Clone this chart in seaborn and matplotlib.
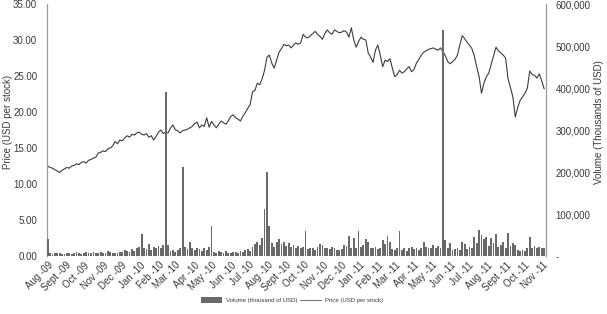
import matplotlib
matplotlib.use("Agg")
import matplotlib.pyplot as plt
import matplotlib.dates as mdates
import matplotlib.ticker as mticker
from matplotlib.patches import Patch
from matplotlib.lines import Line2D
import numpy as np
import pandas as pd
import seaborn as sns

# ---------------- data ----------------
start_date = "2009-08-01"     # first observation, one value every 4 days
step = "4D"

price = [
    12.5, 12.3, 12.2, 12.0, 11.8, 11.6, 11.9, 12.1, 12.3, 12.2,
    12.5, 12.6, 12.8, 12.7, 13.0, 13.1, 12.9, 13.3, 13.4, 13.6,
    13.7, 14.3, 14.4, 14.6, 14.5, 14.9, 15.0, 15.3, 15.9, 15.6,
    16.1, 16.0, 16.4, 16.7, 16.5, 16.9, 16.8, 17.1, 17.2, 16.9,
    16.8, 17.0, 16.5, 16.7, 16.1, 16.6, 17.2, 17.5, 17.0, 17.2,
    17.1, 17.8, 18.2, 17.5, 17.4, 17.1, 17.4, 17.5, 17.6, 17.8,
    18.0, 18.4, 18.6, 17.8, 18.2, 18.0, 19.2, 17.9, 18.7, 18.2,
    17.8, 18.3, 18.75, 18.5, 18.3, 18.8, 19.4, 19.6, 19.2, 19.0,
    18.75, 19.4, 19.9, 20.5, 21.0, 22.8, 23.0, 24.0, 23.8, 24.6,
    25.8, 27.6, 27.9, 26.8, 26.1, 27.2, 28.3, 28.8, 29.4, 29.2,
    29.3, 28.9, 29.3, 29.6, 29.4, 29.6, 30.8, 30.4, 30.3, 30.6,
    30.9, 31.2, 30.8, 30.5, 30.1, 30.9, 31.4, 31.0, 30.8, 31.4,
    31.2, 31.0, 31.1, 31.3, 31.1, 30.4, 31.7, 30.0, 29.0, 29.8,
    30.4, 30.1, 30.0, 28.2, 27.6, 26.9, 28.6, 29.3, 27.9, 26.3,
    27.2, 27.0, 27.4, 26.1, 24.9, 25.2, 25.8, 25.4, 25.6, 26.0,
    26.3, 25.6, 25.9, 26.8, 27.3, 27.9, 28.3, 28.5, 28.7, 28.8,
    28.9, 28.7, 28.6, 28.9, 28.4, 27.8, 27.0, 26.7, 27.0, 27.3,
    27.9, 29.3, 30.6, 30.2, 29.7, 29.3, 28.8, 27.8, 26.3, 24.9,
    22.6, 24.0, 24.9, 25.4, 26.6, 27.8, 29.0, 28.5, 28.2, 27.9,
    27.5, 24.6, 23.4, 22.1, 19.3, 20.6, 21.6, 22.1, 22.6, 23.3,
    25.7, 25.2, 25.1, 24.7, 25.3, 24.3, 23.2,
]

volume = [  # thousand of USD
    40, 6, 5, 7, 6, 8, 5, 4, 7, 6,
    5, 7, 9, 6, 5, 8, 10, 7, 6, 9,
    8, 7, 10, 6, 8, 11, 9, 7, 6, 8,
    10, 9, 14, 12, 10, 16, 13, 18, 21, 52,
    20, 17, 28, 15, 22, 18, 24, 20, 26, 391,
    26, 12, 15, 10, 14, 18, 211, 22, 16, 34,
    18, 14, 20, 17, 12, 19, 15, 22, 72, 10,
    8, 13, 9, 7, 11, 8, 6, 10, 9, 7,
    12, 10, 14, 16, 12, 22, 28, 34, 26, 42,
    112, 199, 72, 30, 22, 34, 40, 28, 34, 24,
    30, 22, 26, 20, 24, 18, 22, 60, 16, 20,
    18, 15, 22, 28, 26, 20, 18, 16, 22, 19,
    15, 14, 17, 26, 24, 48, 20, 44, 18, 60,
    22, 26, 40, 34, 20, 18, 22, 16, 20, 38,
    28, 48, 34, 16, 14, 18, 60, 15, 20, 12,
    18, 22, 16, 20, 14, 18, 34, 22, 18, 20,
    26, 19, 24, 20, 538, 38, 18, 32, 14, 16,
    20, 14, 34, 28, 16, 22, 20, 46, 30, 62,
    50, 40, 46, 24, 42, 30, 52, 22, 26, 34,
    20, 54, 24, 30, 26, 14, 12, 15, 13, 18,
    46, 20, 24, 18, 22, 20, 19,
]

month_names = ["Jan", "Feb", "Mar", "Apr", "May", "Jun",
               "Jul", "Aug", "Sept", "Oct", "Nov", "Dec"]
price_ticks = [0, 5, 10, 15, 20, 25, 30, 35]
volume_ticks = [0, 100000, 200000, 300000, 400000, 500000, 600000]

price_label = "Price (USD per stock)"
volume_label = "Volume (Thousands of USD)"
legend_volume = "Volume (thousand of USD)"
legend_price = "Price (USD per stock)"

# ---------------- figure ----------------
n = min(len(price), len(volume))
dates = pd.date_range(start_date, periods=n, freq=step)
df = pd.DataFrame({"date": dates, "price": price[:n], "volume": volume[:n]})
df["xnum"] = mdates.date2num(df["date"].dt.to_pydatetime())

sns.set_theme(style="white")
plt.rcParams["font.family"] = ["Liberation Sans", "DejaVu Sans"]

text_c = "#3a3a3a"
spine_c = "#9a9a9a"
line_c = "#3c3c3c"
bar_c = "#696969"

fig = plt.figure(figsize=(6.07, 3.14), dpi=100)
ax = fig.add_axes([47 / 607, 1 - 256 / 314, (546 - 47) / 607, (256 - 4) / 314])
ax2 = ax.twinx()

sns.lineplot(data=df, x="xnum", y="price", ax=ax, color=line_c, linewidth=0.8)
ax2.bar(df["xnum"].to_numpy(), df["volume"].to_numpy() * 1000, width=3.0,
        color=bar_c, linewidth=0)

x0 = mdates.date2num(pd.Timestamp("2009-07-31").to_pydatetime())
x1 = mdates.date2num(pd.Timestamp("2011-11-06").to_pydatetime())
ax.set_xlim(x0, x1)
ax.set_ylim(0, 35)
ax2.set_ylim(0, 600000)
ax.set_yticks(price_ticks)
ax2.set_yticks(volume_ticks)
ax.yaxis.set_major_formatter(mticker.FuncFormatter(lambda v, p: f"{v:.2f}"))
ax2.yaxis.set_major_formatter(
    mticker.FuncFormatter(lambda v, p: "-" if v == 0 else f"{v:,.0f}"))

ax.xaxis.set_major_locator(mdates.MonthLocator())
ax.xaxis.set_major_formatter(mticker.FuncFormatter(
    lambda v, p: f"{month_names[mdates.num2date(v).month - 1]} -{mdates.num2date(v).year % 100:02d}"))

for a in (ax, ax2):
    a.tick_params(length=0, colors=text_c, labelsize=7)
    a.set_xlabel("")
    a.set_ylabel("")
    for s in a.spines.values():
        s.set_visible(False)
    a.grid(False)
ax.tick_params(axis="y", pad=7)
ax2.tick_params(axis="y", pad=7)
ax.tick_params(axis="x", pad=3)
for lab in ax.get_xticklabels():
    lab.set_rotation(45)
    lab.set_ha("right")
    lab.set_rotation_mode("anchor")

ax.spines["left"].set_visible(True)
ax.spines["left"].set_color(spine_c)
ax.spines["left"].set_linewidth(0.9)
ax2.spines["right"].set_visible(True)
ax2.spines["right"].set_color(spine_c)
ax2.spines["right"].set_linewidth(0.9)

fig.text(8 / 607, 1 - 122 / 314, price_label, rotation=90, ha="center", va="center",
         fontsize=7, color=text_c)
fig.text(599 / 607, 1 - 122 / 314, volume_label, rotation=90, ha="center", va="center",
         fontsize=7, color=text_c)

handles = [Patch(facecolor=bar_c, edgecolor="none"),
           Line2D([0], [0], color="#7a7a7a", linewidth=0.8)]
fig.legend(handles, [legend_volume, legend_price], loc="center",
           bbox_to_anchor=(292 / 607, 1 - 300 / 314), ncol=2, frameon=False,
           fontsize=4.3, handlelength=3.5, handleheight=1.1, columnspacing=0.6,
           handletextpad=0.6, labelcolor=text_c)

fig.savefig("out.png", dpi=100)
